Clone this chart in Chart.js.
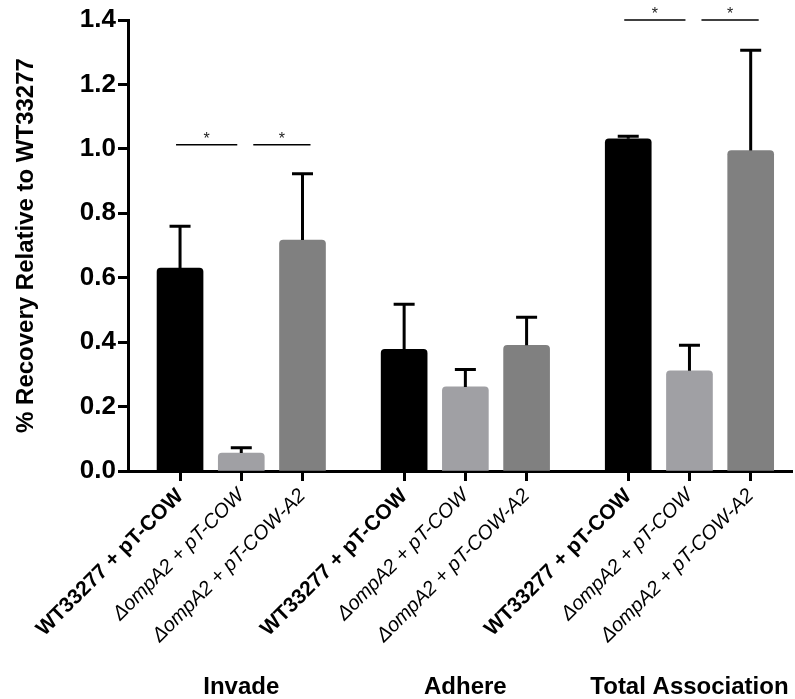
<!DOCTYPE html>
<html>
<head>
<meta charset="utf-8">
<script src="https://cdn.jsdelivr.net/npm/chart.js@4"></script>
<style>
  body { margin: 0; background: #fff; }
  canvas { display: block; }
</style>
</head>
<body>
<canvas id="myChart" width="795" height="699"></canvas>
<script>
// groups and strains
var groups = ['Invade', 'Adhere', 'Total Association'];
var strains = ['WT33277 + pT-COW', '\u0394ompA2 + pT-COW', '\u0394ompA2 + pT-COW-A2'];

// means per strain, one value per group
var wtMeans = [0.63, 0.378, 1.031];
var mutMeans = [0.056, 0.261, 0.311];
var compMeans = [0.717, 0.39, 0.995];

// upper error (SD) per strain
var wtErr = [0.13, 0.14, 0.008];
var mutErr = [0.016, 0.054, 0.079];
var compErr = [0.206, 0.087, 0.311];

// significance brackets: group, from bar, to bar, height
var sigGroup = [0, 0, 2, 2];
var sigFrom = [0, 1, 0, 1];
var sigTo = [1, 2, 1, 2];
var sigLevel = [1.013, 1.013, 1.4, 1.4];

var yTicks = [0, 0.2, 0.4, 0.6, 0.8, 1.0, 1.2, 1.4];

var groupStep = 3.66;
var fontName = '"Liberation Sans", Arial, sans-serif';

function pos(g, i) {
    return g * groupStep + i;
}

function points(means, i) {
    return means.map(function (m, g) { return { x: pos(g, i), y: m }; });
}

var barPositions = [];
for (var g = 0; g < groups.length; g++) {
    for (var i = 0; i < strains.length; i++) {
        barPositions.push(pos(g, i));
    }
}

var errors = [wtErr, mutErr, compErr];

var extrasPlugin = {
    id: 'extras',
    afterDatasetsDraw: function (chart) {
        var ctx = chart.ctx;
        var y = chart.scales.y;
        var x = chart.scales.x;
        ctx.save();
        ctx.strokeStyle = '#000';
        ctx.lineWidth = 3;
        chart.data.datasets.forEach(function (ds, d) {
            var meta = chart.getDatasetMeta(d);
            meta.data.forEach(function (bar, k) {
                var top = y.getPixelForValue(ds.data[k].y + errors[d][k]);
                ctx.beginPath();
                ctx.moveTo(bar.x, bar.y);
                ctx.lineTo(bar.x, top);
                ctx.moveTo(bar.x - 10.5, top);
                ctx.lineTo(bar.x + 10.5, top);
                ctx.stroke();
            });
        });

        ctx.lineWidth = 1.5;
        ctx.fillStyle = '#222';
        ctx.font = '16px ' + fontName;
        ctx.textAlign = 'center';
        ctx.textBaseline = 'middle';
        for (var s = 0; s < sigLevel.length; s++) {
            var first = sigFrom[s] === 0;
            var x1 = x.getPixelForValue(pos(sigGroup[s], sigFrom[s])) + (first ? -4 : 12);
            var x2 = x.getPixelForValue(pos(sigGroup[s], sigTo[s])) + (first ? -4 : 8);
            var ly = y.getPixelForValue(sigLevel[s]);
            ctx.beginPath();
            ctx.moveTo(x1, ly);
            ctx.lineTo(x2, ly);
            ctx.stroke();
            ctx.fillText('*', (x1 + x2) / 2, ly - 5);
        }
        ctx.restore();
    }
};

function createChart() {
    var ctx = document.getElementById('myChart').getContext('2d');
    var myChart = new Chart(ctx, {
        type: 'bar',
        data: {
            datasets: [
                { label: strains[0], data: points(wtMeans, 0), backgroundColor: '#000000' },
                { label: strains[1], data: points(mutMeans, 1), backgroundColor: '#a0a0a4' },
                { label: strains[2], data: points(compMeans, 2), backgroundColor: '#808080' }
            ]
        },
        options: {
            responsive: false,
            animation: false,
            layout: { padding: { top: 20, right: 0, left: 0, bottom: 0 } },
            datasets: {
                bar: {
                    grouped: false,
                    barThickness: 46,
                    borderRadius: { topLeft: 4, topRight: 4 },
                    borderSkipped: 'bottom'
                }
            },
            plugins: {
                legend: { display: false },
                tooltip: { enabled: false }
            },
            scales: {
                x: {
                    type: 'linear',
                    position: 'bottom',
                    weight: 0,
                    offset: false,
                    min: -0.85,
                    max: 10.0,
                    afterBuildTicks: function (scale) {
                        scale.ticks = barPositions.map(function (v) { return { value: v }; });
                    },
                    afterFit: function (scale) { scale.height = 196; },
                    grid: {
                        offset: false,
                        drawOnChartArea: false,
                        tickLength: 10,
                        tickWidth: 3,
                        tickColor: '#000'
                    },
                    border: { color: '#000', width: 3 },
                    ticks: {
                        minRotation: 45,
                        maxRotation: 45,
                        autoSkip: false,
                        padding: 3,
                        color: '#000',
                        callback: function (v, index) { return strains[index % 3]; },
                        font: function (c) {
                            if (c.index % 3 === 0) {
                                return { family: fontName, size: 21, weight: 'bold' };
                            }
                            return { family: fontName, size: 20, style: 'italic', weight: 'normal' };
                        }
                    }
                },
                x2: {
                    type: 'linear',
                    position: 'bottom',
                    weight: 1,
                    offset: false,
                    min: -0.85,
                    max: 10.0,
                    afterBuildTicks: function (scale) {
                        scale.ticks = groups.map(function (n, g) { return { value: pos(g, 1) }; });
                    },
                    afterFit: function (scale) { scale.height = 32; },
                    grid: { display: false, drawTicks: false, offset: false },
                    border: { display: false },
                    ticks: {
                        maxRotation: 0,
                        autoSkip: false,
                        padding: 6,
                        color: '#000',
                        font: { family: fontName, size: 24, weight: 'bold' },
                        callback: function (v, index) { return groups[index]; }
                    }
                },
                y: {
                    min: 0,
                    max: 1.4,
                    afterBuildTicks: function (scale) {
                        scale.ticks = yTicks.map(function (v) { return { value: v }; });
                    },
                    afterFit: function (scale) { scale.width = 128; },
                    grid: {
                        drawOnChartArea: false,
                        tickLength: 10,
                        tickWidth: 3,
                        tickColor: '#000'
                    },
                    border: { color: '#000', width: 3 },
                    ticks: {
                        padding: 2,
                        color: '#000',
                        font: { family: fontName, size: 26, weight: 'bold' },
                        callback: function (v) { return v.toFixed(1); }
                    },
                    title: {
                        display: true,
                        text: '% Recovery Relative to WT33277',
                        color: '#000',
                        font: { family: fontName, size: 24, weight: 'bold' },
                        padding: { top: 12, bottom: 0 }
                    }
                }
            }
        },
        plugins: [extrasPlugin]
    });
}

createChart();
</script>
</body>
</html>
